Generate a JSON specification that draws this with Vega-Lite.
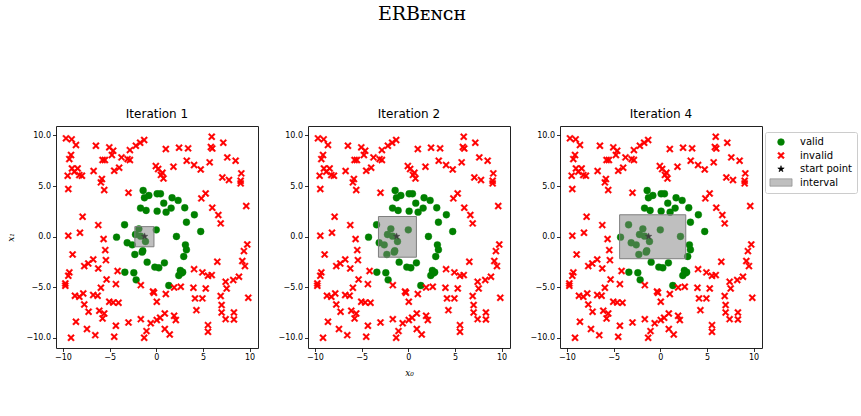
{
"$schema":"https://vega.github.io/schema/vega-lite/v6.json",
"background":"white",
"padding":{"left":6,"top":4,"right":5,"bottom":5},
"title":{"text":"ERBᴇɴᴄʜ","font":"DejaVu Serif","fontSize":19,"fontWeight":"normal","color":"black","anchor":"middle","offset":84,"dx":-10},
"datasets":{
"pts":[
{"x":-1.41,"y":4.56,"kind":"valid"},{"x":-1.27,"y":3.84,"kind":"valid"},{"x":-0.8,"y":4.07,"kind":"valid"},{"x":0.09,"y":4.23,"kind":"valid"},{"x":0.45,"y":4.23,"kind":"valid"},{"x":0.8,"y":3.31,"kind":"valid"},{"x":1.69,"y":3.84,"kind":"valid"},{"x":2.34,"y":3.58,"kind":"valid"},{"x":-1.69,"y":2.82,"kind":"valid"},{"x":-1.09,"y":2.59,"kind":"valid"},{"x":0.09,"y":2.52,"kind":"valid"},{"x":1.05,"y":2.42,"kind":"valid"},{"x":1.59,"y":2.82,"kind":"valid"},{"x":3.05,"y":2.85,"kind":"valid"},{"x":4.08,"y":2.16,"kind":"valid"},{"x":3.23,"y":1.43,"kind":"valid"},{"x":4.76,"y":0.51,"kind":"valid"},{"x":-3.4,"y":1.17,"kind":"valid"},{"x":-4.26,"y":-0.05,"kind":"valid"},{"x":-1.87,"y":0.77,"kind":"valid"},{"x":-2.23,"y":0.21,"kind":"valid"},{"x":-1.69,"y":0.05,"kind":"valid"},{"x":-1.16,"y":-0.48,"kind":"valid"},{"x":0.0,"y":0.67,"kind":"valid"},{"x":-3.12,"y":-0.61,"kind":"valid"},{"x":-2.58,"y":-0.81,"kind":"valid"},{"x":2.16,"y":0.02,"kind":"valid"},{"x":3.12,"y":-0.81,"kind":"valid"},{"x":3.23,"y":-1.3,"kind":"valid"},{"x":2.94,"y":-1.96,"kind":"valid"},{"x":-2.3,"y":-1.76,"kind":"valid"},{"x":-1.52,"y":-1.53,"kind":"valid"},{"x":-1.45,"y":-1.4,"kind":"valid"},{"x":-0.98,"y":-2.52,"kind":"valid"},{"x":-0.16,"y":-3.01,"kind":"valid"},{"x":0.27,"y":-3.08,"kind":"valid"},{"x":0.87,"y":-2.59,"kind":"valid"},{"x":-3.37,"y":-3.51,"kind":"valid"},{"x":-2.41,"y":-3.57,"kind":"valid"},{"x":-2.16,"y":-4.27,"kind":"valid"},{"x":2.58,"y":-3.34,"kind":"valid"},{"x":2.83,"y":-3.51,"kind":"valid"},{"x":2.41,"y":-3.84,"kind":"valid"},{"x":2.7,"y":-3.6,"kind":"valid"},{"x":1.34,"y":-4.83,"kind":"valid"},
{"x":-9.68,"y":9.71,"kind":"invalid"},{"x":-9.07,"y":9.61,"kind":"invalid"},{"x":-8.61,"y":9.05,"kind":"invalid"},{"x":-6.47,"y":8.98,"kind":"invalid"},{"x":-5.04,"y":8.82,"kind":"invalid"},{"x":-4.62,"y":8.49,"kind":"invalid"},{"x":-4.76,"y":8.06,"kind":"invalid"},{"x":-2.83,"y":8.55,"kind":"invalid"},{"x":-2.19,"y":8.98,"kind":"invalid"},{"x":-1.73,"y":9.28,"kind":"invalid"},{"x":-1.3,"y":9.54,"kind":"invalid"},{"x":-9.14,"y":8.06,"kind":"invalid"},{"x":-9.32,"y":7.66,"kind":"invalid"},{"x":-5.76,"y":7.57,"kind":"invalid"},{"x":-5.51,"y":7.57,"kind":"invalid"},{"x":-3.73,"y":7.83,"kind":"invalid"},{"x":-3.08,"y":7.66,"kind":"invalid"},{"x":-2.83,"y":7.57,"kind":"invalid"},{"x":-9.04,"y":6.74,"kind":"invalid"},{"x":-8.43,"y":6.74,"kind":"invalid"},{"x":-9.5,"y":6.02,"kind":"invalid"},{"x":-8.79,"y":6.41,"kind":"invalid"},{"x":-8.25,"y":6.08,"kind":"invalid"},{"x":-7.97,"y":6.02,"kind":"invalid"},{"x":-6.72,"y":6.48,"kind":"invalid"},{"x":-4.51,"y":6.51,"kind":"invalid"},{"x":-3.98,"y":6.81,"kind":"invalid"},{"x":-5.83,"y":5.69,"kind":"invalid"},{"x":-5.94,"y":5.36,"kind":"invalid"},{"x":-5.58,"y":4.6,"kind":"invalid"},{"x":-9.43,"y":4.7,"kind":"invalid"},{"x":-2.98,"y":4.34,"kind":"invalid"},{"x":-7.9,"y":1.97,"kind":"invalid"},{"x":-6.22,"y":1.14,"kind":"invalid"},
{"x":5.94,"y":9.87,"kind":"invalid"},{"x":5.85,"y":8.85,"kind":"invalid"},{"x":6.0,"y":8.7,"kind":"invalid"},{"x":7.18,"y":9.28,"kind":"invalid"},{"x":1.02,"y":8.65,"kind":"invalid"},{"x":2.44,"y":8.79,"kind":"invalid"},{"x":3.41,"y":8.72,"kind":"invalid"},{"x":7.61,"y":7.83,"kind":"invalid"},{"x":8.5,"y":7.5,"kind":"invalid"},{"x":3.26,"y":7.5,"kind":"invalid"},{"x":4.05,"y":7.07,"kind":"invalid"},{"x":4.76,"y":6.64,"kind":"invalid"},{"x":5.72,"y":7.34,"kind":"invalid"},{"x":-0.05,"y":6.97,"kind":"invalid"},{"x":0.2,"y":6.68,"kind":"invalid"},{"x":0.66,"y":6.31,"kind":"invalid"},{"x":0.77,"y":5.75,"kind":"invalid"},{"x":0.5,"y":6.1,"kind":"invalid"},{"x":1.84,"y":6.91,"kind":"invalid"},{"x":7.08,"y":5.85,"kind":"invalid"},{"x":7.79,"y":5.59,"kind":"invalid"},{"x":9.11,"y":6.25,"kind":"invalid"},{"x":9.04,"y":5.52,"kind":"invalid"},{"x":9.04,"y":5.26,"kind":"invalid"},{"x":5.29,"y":4.27,"kind":"invalid"},{"x":4.83,"y":3.78,"kind":"invalid"},{"x":9.64,"y":3.02,"kind":"invalid"},{"x":6.0,"y":2.86,"kind":"invalid"},{"x":6.65,"y":2.13,"kind":"invalid"},{"x":6.9,"y":1.31,"kind":"invalid"},
{"x":-9.43,"y":0.09,"kind":"invalid"},{"x":-8.18,"y":0.39,"kind":"invalid"},{"x":-5.65,"y":-0.24,"kind":"invalid"},{"x":-8.97,"y":-1.76,"kind":"invalid"},{"x":-5.47,"y":-1.33,"kind":"invalid"},{"x":-5.4,"y":-2.32,"kind":"invalid"},{"x":-7.72,"y":-2.91,"kind":"invalid"},{"x":-7.29,"y":-2.65,"kind":"invalid"},{"x":-6.76,"y":-2.25,"kind":"invalid"},{"x":-6.22,"y":-3.14,"kind":"invalid"},{"x":-9.32,"y":-3.53,"kind":"invalid"},{"x":-9.43,"y":-3.86,"kind":"invalid"},{"x":-9.75,"y":-4.62,"kind":"invalid"},{"x":-9.75,"y":-4.85,"kind":"invalid"},{"x":-4.15,"y":-3.4,"kind":"invalid"},{"x":-5.33,"y":-4.23,"kind":"invalid"},{"x":-4.33,"y":-4.69,"kind":"invalid"},{"x":-5.94,"y":-5.05,"kind":"invalid"},{"x":-8.72,"y":-5.84,"kind":"invalid"},{"x":-8.25,"y":-5.94,"kind":"invalid"},{"x":-7.83,"y":-5.61,"kind":"invalid"},{"x":-6.76,"y":-5.77,"kind":"invalid"},{"x":-6.29,"y":-5.84,"kind":"invalid"},{"x":-7.72,"y":-6.7,"kind":"invalid"},{"x":-5.04,"y":-6.43,"kind":"invalid"},{"x":-4.62,"y":-6.5,"kind":"invalid"},{"x":-4.05,"y":-6.53,"kind":"invalid"},{"x":-7.26,"y":-7.42,"kind":"invalid"},{"x":-6.11,"y":-7.32,"kind":"invalid"},{"x":-5.58,"y":-7.59,"kind":"invalid"},{"x":-5.76,"y":-8.08,"kind":"invalid"},{"x":-8.61,"y":-8.41,"kind":"invalid"},{"x":-7.43,"y":-9.13,"kind":"invalid"},{"x":-6.54,"y":-9.73,"kind":"invalid"},{"x":-4.33,"y":-8.8,"kind":"invalid"},{"x":-4.51,"y":-9.89,"kind":"invalid"},{"x":-2.98,"y":-8.48,"kind":"invalid"},{"x":-1.66,"y":-8.15,"kind":"invalid"},{"x":-0.6,"y":-8.55,"kind":"invalid"},{"x":-1.05,"y":-9.33,"kind":"invalid"},{"x":-1.3,"y":-9.99,"kind":"invalid"},{"x":-9.14,"y":-9.99,"kind":"invalid"},{"x":-1.66,"y":-4.79,"kind":"invalid"},
{"x":9.75,"y":-0.77,"kind":"invalid"},{"x":9.39,"y":-1.43,"kind":"invalid"},{"x":9.22,"y":-2.41,"kind":"invalid"},{"x":9.5,"y":-2.91,"kind":"invalid"},{"x":6.54,"y":-2.48,"kind":"invalid"},{"x":4.05,"y":-3.21,"kind":"invalid"},{"x":4.94,"y":-3.53,"kind":"invalid"},{"x":5.54,"y":-3.86,"kind":"invalid"},{"x":5.94,"y":-3.8,"kind":"invalid"},{"x":8.86,"y":-3.96,"kind":"invalid"},{"x":8.25,"y":-4.29,"kind":"invalid"},{"x":7.43,"y":-4.46,"kind":"invalid"},{"x":7.54,"y":-5.12,"kind":"invalid"},{"x":3.98,"y":-5.05,"kind":"invalid"},{"x":5.3,"y":-5.12,"kind":"invalid"},{"x":2.62,"y":-4.95,"kind":"invalid"},{"x":1.91,"y":-5.02,"kind":"invalid"},{"x":1.02,"y":-5.67,"kind":"invalid"},{"x":-0.35,"y":-5.42,"kind":"invalid"},{"x":-0.25,"y":-5.55,"kind":"invalid"},{"x":6.9,"y":-5.87,"kind":"invalid"},{"x":4.15,"y":-6.1,"kind":"invalid"},{"x":4.94,"y":-6.1,"kind":"invalid"},{"x":9.86,"y":-6.04,"kind":"invalid"},{"x":0.05,"y":-6.43,"kind":"invalid"},{"x":7.0,"y":-6.76,"kind":"invalid"},{"x":4.3,"y":-7.26,"kind":"invalid"},{"x":7.0,"y":-7.49,"kind":"invalid"},{"x":8.32,"y":-7.49,"kind":"invalid"},{"x":7.43,"y":-8.15,"kind":"invalid"},{"x":8.32,"y":-8.18,"kind":"invalid"},{"x":0.91,"y":-7.59,"kind":"invalid"},{"x":0.41,"y":-8.01,"kind":"invalid"},{"x":0.05,"y":-8.24,"kind":"invalid"},{"x":1.91,"y":-7.82,"kind":"invalid"},{"x":2.09,"y":-8.24,"kind":"invalid"},{"x":0.91,"y":-9.13,"kind":"invalid"},{"x":1.44,"y":-9.66,"kind":"invalid"},{"x":5.54,"y":-8.74,"kind":"invalid"},{"x":5.54,"y":-9.4,"kind":"invalid"},
{"x":-1.25,"y":0.03,"kind":"start point"}
],
"boxes":[
{"it":"Iteration 1","x0":-2.3,"x1":-0.25,"y0":-1.0,"y1":0.99},
{"it":"Iteration 2","x0":-3.2,"x1":0.87,"y0":-2.03,"y1":1.99},
{"it":"Iteration 4","x0":-4.36,"x1":2.73,"y0":-2.18,"y1":2.16}
]
},
"spacing":18,
"resolve":{"scale":{"color":"shared","shape":"shared","stroke":"shared"},"legend":{"color":"shared","shape":"shared","stroke":"shared"}},
"hconcat":[
{"title":"Iteration 1","width":202,"height":222,"layer":[
{"data":{"name":"pts"},"mark":{"type":"point","filled":true,"opacity":1,"size":48,"strokeWidth":0.4},
"encoding":{
"x":{"field":"x","type":"quantitative","scale":{"domain":[-10.75,10.9],"nice":false,"zero":false},"axis":{"values":[-10,-5,0,5,10],"format":"d","title":null}},
"y":{"field":"y","type":"quantitative","scale":{"domain":[-11.0,10.93],"nice":false,"zero":false},"axis":{"values":[-10,-7.5,-5,-2.5,0,2.5,5,7.5,10],"format":".1f","title":"x₁","titlePadding":10}},
"color":{"field":"kind","type":"nominal","scale":{"domain":["valid","invalid","start point","interval"],"range":["#008000","#ff0000","#000000","#bfbfbf"]},"legend":{"title":null,"orient":"none","legendX":709,"legendY":6}},
"stroke":{"field":"kind","type":"nominal","scale":{"domain":["valid","invalid","start point","interval"],"range":["#008000","#ff0000","#000000","#7f7f7f"]},"legend":{"title":null,"orient":"none","legendX":709,"legendY":6}},
"shape":{"field":"kind","type":"nominal","scale":{"domain":["valid","invalid","start point","interval"],"range":["circle","M-1,-0.65L-0.65,-1L0,-0.35L0.65,-1L1,-0.65L0.35,0L1,0.65L0.65,1L0,0.35L-0.65,1L-1,0.65L-0.35,0Z","M0,-1L0.235,-0.324L0.951,-0.309L0.38,0.124L0.588,0.809L0,0.4L-0.588,0.809L-0.38,0.124L-0.951,-0.309L-0.235,-0.324Z","M-3.3,-1.1H3.3V1.1H-3.3Z"]},"legend":{"title":null,"orient":"none","legendX":709,"legendY":6}}
}},
{"data":{"name":"boxes"},"transform":[{"filter":"datum.it == 'Iteration 1'"}],"mark":{"type":"rect","fill":"#808080","fillOpacity":0.5,"stroke":"#7f7f7f","strokeWidth":1},
"encoding":{"x":{"field":"x0","type":"quantitative"},"x2":{"field":"x1"},"y":{"field":"y0","type":"quantitative"},"y2":{"field":"y1"}}}
]},
{"title":"Iteration 2","width":202,"height":222,"layer":[
{"data":{"name":"pts"},"mark":{"type":"point","filled":true,"opacity":1,"size":48,"strokeWidth":0.4},
"encoding":{
"x":{"field":"x","type":"quantitative","scale":{"domain":[-10.75,10.9],"nice":false,"zero":false},"axis":{"values":[-10,-5,0,5,10],"format":"d","title":"x₀","titlePadding":7}},
"y":{"field":"y","type":"quantitative","scale":{"domain":[-11.0,10.93],"nice":false,"zero":false},"axis":{"values":[-10,-7.5,-5,-2.5,0,2.5,5,7.5,10],"format":".1f","title":null}},
"color":{"field":"kind","type":"nominal","scale":{"domain":["valid","invalid","start point","interval"],"range":["#008000","#ff0000","#000000","#bfbfbf"]},"legend":{"title":null,"orient":"none","legendX":709,"legendY":6}},
"stroke":{"field":"kind","type":"nominal","scale":{"domain":["valid","invalid","start point","interval"],"range":["#008000","#ff0000","#000000","#7f7f7f"]},"legend":{"title":null,"orient":"none","legendX":709,"legendY":6}},
"shape":{"field":"kind","type":"nominal","scale":{"domain":["valid","invalid","start point","interval"],"range":["circle","M-1,-0.65L-0.65,-1L0,-0.35L0.65,-1L1,-0.65L0.35,0L1,0.65L0.65,1L0,0.35L-0.65,1L-1,0.65L-0.35,0Z","M0,-1L0.235,-0.324L0.951,-0.309L0.38,0.124L0.588,0.809L0,0.4L-0.588,0.809L-0.38,0.124L-0.951,-0.309L-0.235,-0.324Z","M-3.3,-1.1H3.3V1.1H-3.3Z"]},"legend":{"title":null,"orient":"none","legendX":709,"legendY":6}}
}},
{"data":{"name":"boxes"},"transform":[{"filter":"datum.it == 'Iteration 2'"}],"mark":{"type":"rect","fill":"#808080","fillOpacity":0.5,"stroke":"#7f7f7f","strokeWidth":1},
"encoding":{"x":{"field":"x0","type":"quantitative"},"x2":{"field":"x1"},"y":{"field":"y0","type":"quantitative"},"y2":{"field":"y1"}}}
]},
{"title":"Iteration 4","width":202,"height":222,"layer":[
{"data":{"name":"pts"},"mark":{"type":"point","filled":true,"opacity":1,"size":48,"strokeWidth":0.4},
"encoding":{
"x":{"field":"x","type":"quantitative","scale":{"domain":[-10.75,10.9],"nice":false,"zero":false},"axis":{"values":[-10,-5,0,5,10],"format":"d","title":null}},
"y":{"field":"y","type":"quantitative","scale":{"domain":[-11.0,10.93],"nice":false,"zero":false},"axis":{"values":[-10,-7.5,-5,-2.5,0,2.5,5,7.5,10],"format":".1f","title":null}},
"color":{"field":"kind","type":"nominal","scale":{"domain":["valid","invalid","start point","interval"],"range":["#008000","#ff0000","#000000","#bfbfbf"]},"legend":{"title":null,"orient":"none","legendX":709,"legendY":6}},
"stroke":{"field":"kind","type":"nominal","scale":{"domain":["valid","invalid","start point","interval"],"range":["#008000","#ff0000","#000000","#7f7f7f"]},"legend":{"title":null,"orient":"none","legendX":709,"legendY":6}},
"shape":{"field":"kind","type":"nominal","scale":{"domain":["valid","invalid","start point","interval"],"range":["circle","M-1,-0.65L-0.65,-1L0,-0.35L0.65,-1L1,-0.65L0.35,0L1,0.65L0.65,1L0,0.35L-0.65,1L-1,0.65L-0.35,0Z","M0,-1L0.235,-0.324L0.951,-0.309L0.38,0.124L0.588,0.809L0,0.4L-0.588,0.809L-0.38,0.124L-0.951,-0.309L-0.235,-0.324Z","M-3.3,-1.1H3.3V1.1H-3.3Z"]},"legend":{"title":null,"orient":"none","legendX":709,"legendY":6}}
}},
{"data":{"name":"boxes"},"transform":[{"filter":"datum.it == 'Iteration 4'"}],"mark":{"type":"rect","fill":"#808080","fillOpacity":0.5,"stroke":"#7f7f7f","strokeWidth":1},
"encoding":{"x":{"field":"x0","type":"quantitative"},"x2":{"field":"x1"},"y":{"field":"y0","type":"quantitative"},"y2":{"field":"y1"}}}
]}
],
"config":{
"view":{"stroke":"#222222","strokeWidth":1},
"axis":{"domain":false,"grid":false,"labelFont":"DejaVu Sans","labelFontSize":8,"labelColor":"#000000","tickColor":"#000000","tickSize":3.5,"tickWidth":0.8,"labelPadding":2,"titleFont":"DejaVu Serif","titleFontStyle":"italic","titleFontWeight":"normal","titleFontSize":9,"titleColor":"#000000","titlePadding":4},
"title":{"font":"DejaVu Sans","fontSize":12,"fontWeight":"normal","color":"#000000","offset":5},
"legend":{"strokeColor":"#cccccc","fillColor":"white","padding":5,"cornerRadius":2,"labelFont":"DejaVu Sans","labelFontSize":10,"labelColor":"#000000","symbolSize":45,"symbolStrokeWidth":0.6,"rowPadding":3.5,"labelOffset":14,"symbolOffset":6}
}
}
